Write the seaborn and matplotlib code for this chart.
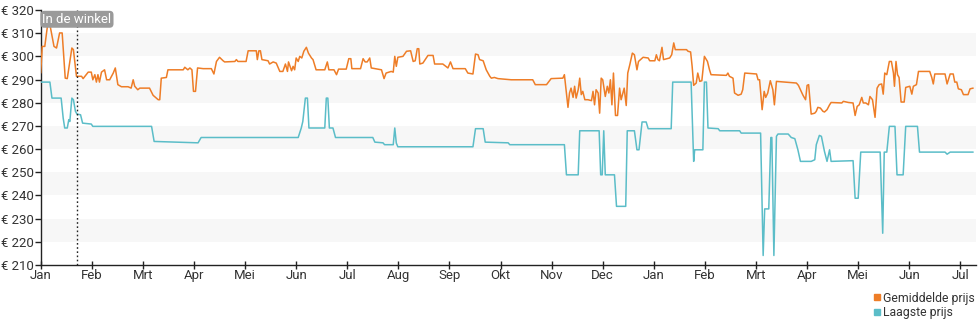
import matplotlib
matplotlib.use("Agg")
import matplotlib.pyplot as plt
from matplotlib.lines import Line2D
import numpy as np
import pandas as pd
import seaborn as sns

# Time axis: months since the first January (fractional)
avg_t = [0.00, 0.03, 0.08, 0.14, 0.18, 0.26, 0.31, 0.37, 0.42, 0.48, 0.52, 0.61, 0.64, 0.70, 0.80, 0.83, 0.93, 0.99,
         1.02, 1.06, 1.09, 1.12, 1.15, 1.19, 1.25, 1.29, 1.35, 1.42, 1.46, 1.51, 1.58, 1.71, 1.77, 1.81, 1.84, 1.90, 1.94,
         2.13, 2.20, 2.30, 2.33, 2.36, 2.46, 2.49, 2.79, 2.82, 2.88, 2.92, 2.96, 2.99, 3.03, 3.07, 3.18, 3.34, 3.39, 3.44,
         3.50, 3.57, 3.60, 3.80, 3.83, 3.86, 4.02, 4.06, 4.22, 4.24, 4.27, 4.30, 4.33, 4.45, 4.48, 4.55, 4.61, 4.68, 4.74,
         4.79, 4.83, 4.85, 4.91, 4.94, 4.97, 5.00, 5.04, 5.07, 5.11, 5.15, 5.20, 5.24, 5.30, 5.33, 5.39, 5.56, 5.61, 5.64,
         5.74, 5.79, 5.83, 5.98, 6.03, 6.07, 6.09, 6.24, 6.26, 6.31, 6.35, 6.39, 6.44, 6.47, 6.67, 6.72, 6.76, 6.86, 6.90,
         6.93, 6.96, 6.99, 7.09, 7.16, 7.24, 7.29, 7.33, 7.37, 7.40, 7.42, 7.48, 7.58, 7.68, 7.71, 7.87, 7.97, 8.02, 8.07,
         8.31, 8.36, 8.46, 8.51, 8.56, 8.59, 8.66, 8.72, 8.79, 8.82, 8.88, 8.95, 9.21, 9.63, 9.68, 9.90, 9.99, 10.22, 10.25,
         10.29, 10.32, 10.35, 10.38, 10.42, 10.45, 10.48, 10.52, 10.55, 10.58, 10.61, 10.65, 10.71, 10.78, 10.81, 10.84,
         10.87, 10.91, 10.94, 10.97, 11.00, 11.05, 11.09, 11.12, 11.15, 11.18, 11.21, 11.25, 11.29, 11.33, 11.36, 11.42,
         11.46, 11.49, 11.53, 11.58, 11.62, 11.67, 11.70, 11.79, 11.89, 11.92, 12.02, 12.05, 12.08, 12.11, 12.16, 12.19,
         12.31, 12.35, 12.39, 12.42, 12.64, 12.67, 12.72, 12.75, 12.78, 12.83, 12.86, 12.90, 12.94, 12.99, 13.05, 13.09,
         13.12, 13.42, 13.45, 13.48, 13.55, 13.58, 13.65, 13.71, 13.74, 13.78, 14.01, 14.04, 14.07, 14.12, 14.16, 14.19,
         14.23, 14.28, 14.33, 14.36, 14.40, 14.79, 14.83, 14.92, 14.97, 15.00, 15.03, 15.08, 15.15, 15.18, 15.21, 15.26,
         15.31, 15.34, 15.39, 15.44, 15.47, 15.68, 15.71, 15.81, 15.90, 15.94, 15.98, 16.02, 16.07, 16.10, 16.15, 16.20,
         16.23, 16.28, 16.33, 16.37, 16.41, 16.46, 16.49, 16.52, 16.56, 16.61, 16.65, 16.69, 16.71, 16.74, 16.77, 16.80,
         16.84, 16.90, 16.93, 17.01, 17.05, 17.08, 17.14, 17.18, 17.40, 17.44, 17.47, 17.50, 17.70, 17.74, 17.80, 17.86,
         17.89, 17.93, 17.96, 18.02, 18.06, 18.15, 18.19, 18.25]
avg_price = [292.8, 304.3, 304.3, 314.4, 313.7, 304.3, 303.6, 310.1, 310.1, 290.6, 290.4, 303.6, 302.9, 291.4, 291.4,
             290.4, 293.2, 293.2, 289.9, 292.1, 288.9, 292.1, 288.9, 293.2, 294.2, 289.9, 289.9, 292.8, 295.0, 287.8,
             286.9, 286.9, 286.3, 289.9, 287.1, 285.6, 286.3, 286.3, 283.2, 281.3, 281.3, 290.6, 290.9, 294.2, 294.2,
             295.3, 294.2, 295.0, 294.2, 284.9, 284.9, 295.0, 294.7, 294.7, 292.4, 297.8, 299.6, 298.1, 297.6, 297.8,
             298.6, 297.8, 297.8, 302.4, 302.4, 298.6, 302.4, 302.4, 298.6, 298.1, 296.7, 297.6, 297.1, 293.5, 293.5,
             296.7, 293.5, 297.6, 293.8, 295.7, 294.2, 299.3, 297.8, 300.0, 299.3, 302.2, 303.9, 301.4, 299.3, 298.6,
             294.2, 294.2, 297.6, 294.2, 294.2, 292.1, 294.5, 294.5, 299.0, 299.0, 294.7, 294.7, 294.7, 299.0, 297.6,
             297.6, 299.3, 295.0, 294.2, 290.4, 292.8, 293.5, 293.2, 300.0, 295.7, 299.6, 300.0, 302.2, 302.4, 297.8,
             298.1, 303.3, 303.3, 296.7, 297.1, 300.4, 300.4, 296.7, 296.7, 295.0, 297.6, 294.7, 294.7, 292.8, 292.4,
             301.0, 300.7, 298.6, 298.1, 294.2, 291.4, 290.6, 290.9, 290.4, 289.9, 289.9, 287.8, 287.8, 290.4, 290.6,
             292.1, 284.2, 278.0, 284.2, 286.3, 282.3, 287.1, 282.0, 285.6, 290.6, 283.5, 284.9, 281.3, 281.3, 280.9,
             284.9, 279.1, 285.6, 284.2, 275.5, 290.6, 289.9, 282.7, 287.1, 284.2, 289.9, 279.1, 292.8, 274.5, 274.5,
             286.3, 281.3, 286.3, 278.8, 292.8, 296.4, 301.4, 300.7, 294.2, 297.8, 299.6, 299.3, 298.1, 298.1, 300.7,
             298.6, 298.1, 303.9, 298.6, 299.3, 300.7, 305.8, 302.9, 302.9, 302.2, 301.9, 295.7, 287.5, 288.5, 292.8,
             289.2, 289.5, 300.0, 297.8, 294.2, 292.1, 291.8, 292.8, 291.4, 290.6, 284.2, 283.2, 283.7, 285.6, 292.8,
             292.4, 289.9, 289.9, 277.0, 284.9, 282.3, 284.2, 289.5, 285.6, 279.1, 289.2, 288.5, 287.5, 283.2, 281.3,
             287.5, 287.8, 275.1, 275.5, 276.3, 278.0, 277.7, 276.3, 276.0, 277.0, 279.1, 280.1, 279.9, 280.6, 280.1,
             279.9, 274.5, 278.4, 279.1, 282.3, 279.9, 279.9, 279.1, 282.7, 281.3, 273.7, 286.3, 287.8, 288.1, 283.7,
             292.8, 292.1, 297.8, 297.8, 292.8, 287.1, 297.8, 292.1, 290.9, 280.3, 280.3, 286.6, 287.1, 283.7, 287.1,
             287.8, 293.5, 293.5, 290.9, 288.1, 292.4, 292.4, 288.1, 292.4, 292.4, 288.9, 288.9, 286.0, 285.6, 283.5,
             283.5, 286.0, 286.3]

low_t = [0.00, 0.18, 0.22, 0.40, 0.44, 0.47, 0.52, 0.55, 0.57, 0.61, 0.64, 0.68, 0.71, 0.78, 0.82, 0.99, 1.02, 2.17,
         2.22, 3.08, 3.14, 5.04, 5.10, 5.13, 5.18, 5.22, 5.25, 5.56, 5.59, 5.62, 5.65, 5.72, 5.77, 6.50, 6.54, 6.70, 6.73,
         6.90, 6.93, 6.96, 6.99, 8.46, 8.51, 8.66, 8.70, 9.15, 9.18, 10.25, 10.29, 10.52, 10.55, 10.93, 10.96, 10.99,
         11.02, 11.05, 11.23, 11.27, 11.45, 11.48, 11.62, 11.67, 11.71, 11.77, 11.85, 11.89, 12.34, 12.37, 12.73, 12.78,
         12.80, 12.96, 12.99, 13.03, 13.06, 13.26, 13.29, 13.68, 13.71, 14.09, 14.14, 14.17, 14.25, 14.29, 14.31, 14.35,
         14.40, 14.43, 14.63, 14.69, 14.76, 14.82, 14.87, 15.08, 15.15, 15.18, 15.24, 15.28, 15.34, 15.39, 15.44, 15.47,
         15.90, 15.94, 16.00, 16.05, 16.43, 16.48, 16.51, 16.56, 16.61, 16.72, 16.76, 16.88, 16.93, 17.16, 17.20, 17.70,
         17.74, 17.80, 18.25]
low_price = [288.9, 288.9, 282.0, 282.0, 273.4, 269.1, 269.1, 272.7, 271.9, 282.0, 281.3, 276.3, 275.1, 274.8, 271.2,
             270.8, 269.8, 269.8, 263.3, 262.7, 265.0, 265.0, 269.1, 271.9, 282.0, 282.0, 269.1, 269.1, 282.0, 282.0,
             269.1, 269.1, 265.0, 265.0, 263.0, 262.7, 261.9, 261.9, 269.1, 262.6, 261.0, 261.0, 268.8, 268.8, 263.0,
             262.7, 261.9, 261.9, 248.9, 248.9, 267.9, 267.9, 248.9, 248.9, 267.9, 248.9, 248.9, 235.3, 235.3, 267.9,
             267.9, 259.7, 259.7, 271.7, 271.7, 268.8, 268.8, 288.9, 288.9, 254.7, 259.7, 259.7, 288.9, 288.9, 269.1,
             268.8, 267.9, 267.9, 266.9, 266.9, 214.1, 234.2, 234.2, 265.0, 265.0, 214.1, 265.5, 266.5, 266.5, 265.0,
             264.5, 259.7, 254.7, 254.7, 255.4, 261.9, 265.9, 265.5, 259.0, 254.7, 259.7, 254.7, 255.0, 238.8, 238.8,
             258.7, 258.7, 223.7, 258.7, 258.7, 269.8, 269.8, 248.9, 248.9, 269.8, 269.8, 258.7, 258.7, 257.8, 258.7,
             258.7]

month_labels = ["Jan", "Feb", "Mrt", "Apr", "Mei", "Jun", "Jul", "Aug", "Sep", "Okt", "Nov", "Dec",
                "Jan", "Feb", "Mrt", "Apr", "Mei", "Jun", "Jul"]
price_ticks = [210, 220, 230, 240, 250, 260, 270, 280, 290, 300, 310, 320]
in_store_t = 0.71
series_names = ["Gemiddelde prijs", "Laagste prijs"]

ORANGE = "#ee7d27"
TEAL = "#5bbdc8"
TEXT = "#333333"

sns.set_theme(style="white")
plt.rcParams["font.family"] = ["Roboto", "DejaVu Sans"]

df = pd.concat([
    pd.DataFrame({"t": avg_t, "prijs": avg_price, "reeks": series_names[0]}),
    pd.DataFrame({"t": low_t, "prijs": low_price, "reeks": series_names[1]}),
])

fig = plt.figure(figsize=(9.8, 3.25), dpi=100)
ax = fig.add_axes([40.7 / 980, 60 / 325, 935 / 980, 255 / 325])

# alternating horizontal bands
for lo in price_ticks[1:-1:2]:
    ax.axhspan(lo, lo + 10, color="#f7f7f7", zorder=0, lw=0)

sns.lineplot(data=df, x="t", y="prijs", hue="reeks", palette=[ORANGE, TEAL],
             estimator=None, sort=False, linewidth=1.1, legend=False, ax=ax, zorder=3)

ax.axvline(in_store_t, color="#222222", linestyle=(0, (1.2, 1.8)), linewidth=1.0, zorder=4)
ax.text(in_store_t, 316.0, "In de winkel", ha="center", va="center", fontsize=9.5, color="white", zorder=5,
        bbox=dict(boxstyle="round,pad=0.15,rounding_size=0.3", fc="#9a9a9a", ec="none"))

ax.set_xlim(0, 18.3)
ax.set_ylim(210, 320)
ax.set_xticks(range(len(month_labels)))
ax.set_xticklabels(month_labels)
ax.set_yticks(price_ticks)
ax.set_yticklabels([f"€ {p}" for p in price_ticks])
ax.set_xlabel("")
ax.set_ylabel("")

for side in ["top", "right"]:
    ax.spines[side].set_visible(False)
for side in ["left", "bottom"]:
    ax.spines[side].set_color("#222222")
    ax.spines[side].set_linewidth(1.0)

ax.tick_params(axis="y", which="major", direction="out", length=4, width=1, color="#222222",
               labelsize=9.5, labelcolor=TEXT, pad=1, left=True)
ax.tick_params(axis="x", which="major", direction="inout", length=6, width=1, color="#222222",
               labelsize=9.5, labelcolor=TEXT, pad=0, bottom=True)
ax.grid(False)

handles = [Line2D([], [], marker="s", linestyle="none", markersize=4.5, color=c) for c in (ORANGE, TEAL)]
fig.legend(handles, series_names, loc="upper right", bbox_to_anchor=(0.995, 0.103), frameon=False,
           fontsize=8.8, labelcolor=TEXT, handlelength=0.5, handletextpad=0.25, labelspacing=0.15,
           borderpad=0, borderaxespad=0)

fig.savefig("out.png", dpi=100, facecolor="white")
